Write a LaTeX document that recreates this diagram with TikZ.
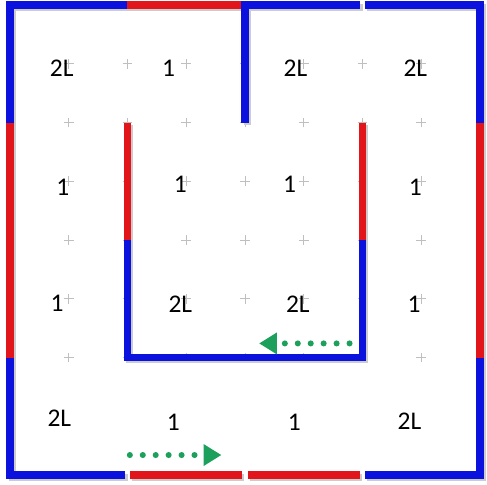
\documentclass[tikz,border=0pt]{standalone}
\usepackage{fontspec}
\setmainfont{Carlito}
\usetikzlibrary{arrows.meta}
\definecolor{wallblue}{RGB}{12,18,222}
\definecolor{wallred}{RGB}{226,22,26}
\definecolor{pathgreen}{RGB}{28,160,92}
\tikzset{
  wall/.style={line width=5.2pt},
  wallshadow/.style={line width=5.2pt, gray!40, transform canvas={shift={(1.6pt,-1.6pt)}}},
  solid wall/.style={},
  gap end/.style={shorten >=1.5pt},
  gap start/.style={shorten <=1.5pt},
  gap both/.style={shorten <=2pt, shorten >=2pt},
  cell/.style={font=\fontsize{18.5}{20}\selectfont, inner sep=1pt},
  gridmark/.style={gray!50, line width=0.5pt},
  walk/.style={pathgreen, line width=4.4pt, line cap=round, dash pattern=on 0pt off 9.4pt,
    -{Triangle[length=13pt,width=15pt]}}
}
\def\segments{
  wallblue/solid wall/{(0,3) -- (0,4) -- (1,4)},
  wallred/solid wall/{(1,4) -- (2,4)},
  wallblue/gap end/{(2,3) -- (2,4) -- (3,4)},
  wallblue/gap start/{(3,4) -- (4,4) -- (4,3)},
  wallred/solid wall/{(4,3) -- (4,1)},
  wallblue/gap end/{(4,1) -- (4,0) -- (3,0)},
  wallred/gap both/{(3,0) -- (2,0)},
  wallred/gap both/{(2,0) -- (1,0)},
  wallblue/gap start/{(1,0) -- (0,0) -- (0,1)},
  wallred/solid wall/{(0,1) -- (0,3)},
  wallred/solid wall/{(1,3) -- (1,2)},
  wallblue/solid wall/{(1,2) -- (1,1) -- (2,1)},
  wallblue/solid wall/{(2,1) -- (3,1) -- (3,2)},
  wallred/solid wall/{(3,2) -- (3,3)}}
\begin{document}
\begin{tikzpicture}[x=3cm,y=3cm]
    \useasboundingbox (-0.085,-0.077) rectangle (4.06,4.043);
    % grid of faint crosses
    \foreach \i in {1,...,7}
        \foreach \j in {2,...,7}
            \draw[gridmark] (\i/2,\j/2) +(-3.6pt,0) -- +(3.6pt,0) +(0,-3.6pt) -- +(0,3.6pt);
    % cell values
    \node[cell] (a1) at (0.44,3.46) {2L};
    \node[cell] (a2) at (1.35,3.46) {1};
    \node[cell] (a3) at (2.43,3.46) {2L};
    \node[cell] (a4) at (3.45,3.46) {2L};
    \node[cell] (b1) at (0.45,2.45) {1};
    \node[cell] (b2) at (1.45,2.47) {1};
    \node[cell] (b3) at (2.38,2.47) {1};
    \node[cell] (b4) at (3.45,2.45) {1};
    \node[cell] (c1) at (0.40,1.46) {1};
    \node[cell] (c2) at (1.45,1.45) {2L};
    \node[cell] (c3) at (2.45,1.45) {2L};
    \node[cell] (c4) at (3.44,1.45) {1};
    \node[cell] (d1) at (0.42,0.48) {2L};
    \node[cell] (d2) at (1.39,0.45) {1};
    \node[cell] (d3) at (2.42,0.45) {1};
    \node[cell] (d4) at (3.40,0.46) {2L};
    % walls
    \foreach \c/\o/\p in \segments
        \draw[wallshadow, \o] \p;
    \foreach \c/\o/\p in \segments
        \draw[wall, \c, \o] \p;
    % direction of travel
    \coordinate (inA) at (1.02,0.17);
    \coordinate (inB) at (1.80,0.17);
    \coordinate (upA) at (2.89,1.12);
    \coordinate (upB) at (2.12,1.12);
    \draw[walk] (inA) -- (inB);
    \draw[walk] (upA) -- (upB);
\end{tikzpicture}
\end{document}
